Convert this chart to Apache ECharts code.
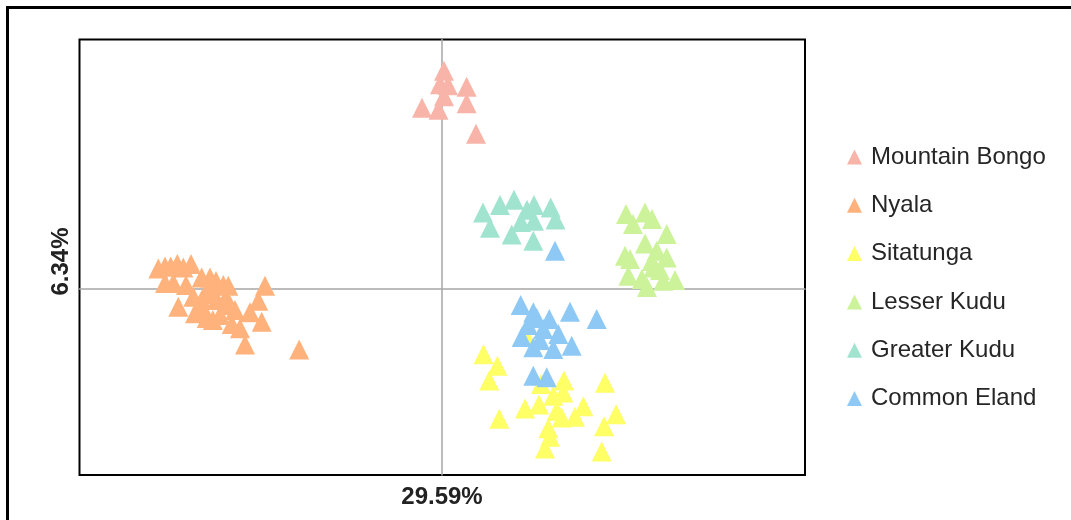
<!DOCTYPE html>
<html>
<head>
<meta charset="utf-8">
<script src="https://cdn.jsdelivr.net/npm/echarts@6/dist/echarts.min.js"></script>
<style>
html,body{margin:0;padding:0;background:#fff;}
#chart{width:1071px;height:520px;}
</style>
</head>
<body>
<div id="chart"></div>
<script>
// Axis labels (explained variance of the two components)
const xAxisLabel = "29.59%";
const yAxisLabel = "6.34%";

const seriesNames = ["Mountain Bongo", "Nyala", "Sitatunga", "Lesser Kudu", "Greater Kudu", "Common Eland"];
const seriesColors = ["#F8B4A8", "#FFB27C", "#FFFF66", "#CCF29A", "#A0E4D0", "#8EC9F5"];

const mountainBongo = [
  [0.22, 21.85], [-0.18, 20.5], [0.62, 20.4], [0.22, 19.3], [2.48, 20.25],
  [2.48, 18.6], [-1.98, 18.15], [-0.33, 17.95], [3.42, 15.55]
];
const nyala = [
  [-28.35, 2.07], [-27.68, 2.27], [-27.11, 2.27], [-26.45, 2.5], [-25.85, 2.17],
  [-25.08, 2.5], [-26.85, 0.6], [-27.68, 0.6], [-26.35, -1.77], [-24.01, 1.17],
  [-23.18, 1.17], [-21.85, 0.4], [-21.35, 0.33], [-22.58, 0.8], [-17.68, 0.33],
  [-18.35, -1.17], [-18.01, -3.27], [-19.68, -5.55], [-19.18, -2.33], [-21.01, -3.5],
  [-24.01, -1.1], [-24.68, -2.43], [-23.51, -2.9], [-22.18, -2.6], [-20.68, -2.1],
  [-24.85, -0.77], [-22.51, -1.1], [-21.18, -1.6], [-20.18, -3.93], [-14.26, -6.05],
  [-25.58, 0.4], [-23.5, -0.2], [-22.8, -0.5], [-23.9, -1.9], [-21.6, -0.9],
  [-22.9, -3.1]
];
const sitatunga = [
  [4.17, -6.53], [5.56, -7.68], [4.74, -9.15], [5.75, -12.96], [8.32, -11.95],
  [9.72, -11.55], [12.22, -9.15], [11.15, -10.68], [12.15, -10.35], [16.32, -9.36],
  [14.16, -11.72], [13.32, -12.77], [11.49, -12.18], [11.99, -12.85], [10.65, -13.93],
  [10.82, -14.77], [10.32, -15.95], [17.43, -12.53], [16.23, -13.72], [15.99, -16.25],
  [8.42, -4.7], [9.92, -9.5]
];
const lesserKudu = [
  [18.42, 7.5], [20.32, 7.67], [19.12, 6.5], [21.02, 7.0], [22.49, 5.5],
  [20.32, 4.57], [18.32, 3.33], [18.82, 3.0], [21.49, 3.83], [22.49, 3.17],
  [18.65, 1.33], [20.52, 0.2], [22.15, 0.83], [23.32, 0.9], [21.15, 2.17],
  [21.82, 1.9], [21.0, 2.8], [20.0, 1.0]
];
const greaterKudu = [
  [4.12, 7.67], [5.82, 8.4], [7.22, 8.93], [8.52, 7.93], [9.22, 8.4],
  [10.89, 8.17], [4.82, 6.13], [6.99, 5.47], [9.22, 6.83], [11.37, 6.95],
  [9.15, 4.83], [7.92, 6.7]
];
const commonEland = [
  [11.32, 3.83], [7.89, -1.6], [9.15, -2.33], [10.75, -3.0], [12.82, -2.27],
  [15.49, -3.0], [9.49, -2.9], [7.99, -4.8], [10.15, -4.0], [11.65, -4.5],
  [12.99, -5.67], [9.15, -5.83], [11.15, -6.0], [9.15, -8.67], [10.49, -8.83],
  [9.82, -5.1], [8.62, -3.6]
];

const allData = [mountainBongo, nyala, sitatunga, lesserKudu, greaterKudu, commonEland];

const chart = echarts.init(document.getElementById('chart'), null, {renderer: 'canvas'});

const series = seriesNames.map((name, i) => ({
  name: name,
  type: 'scatter',
  symbol: 'triangle',
  symbolSize: 20,
  data: allData[i],
  itemStyle: {color: seriesColors[i], opacity: 1},
  emphasis: {disabled: true}
}));

const axisCommon = {
  type: 'value',
  axisLine: {show: true, onZero: true, lineStyle: {color: '#A6A6A6', width: 1.5}},
  axisTick: {show: false},
  axisLabel: {show: false},
  splitLine: {show: false}
};

chart.setOption({
  animation: false,
  backgroundColor: '#ffffff',
  grid: {
    left: 79.5, top: 39.5, right: 266, bottom: 45,
    show: true, borderColor: '#000000', borderWidth: 2, backgroundColor: 'transparent'
  },
  xAxis: Object.assign({}, axisCommon, {min: -36.23, max: 36.32}),
  yAxis: Object.assign({}, axisCommon, {min: -18.6, max: 24.97}),
  legend: {
    orient: 'vertical',
    left: 847, top: 145,
    padding: 0,
    itemWidth: 15, itemHeight: 15,
    itemGap: 24.3,
    icon: 'triangle',
    selectedMode: false,
    data: seriesNames,
    textStyle: {
      fontFamily: 'Liberation Sans, Arial, sans-serif',
      fontSize: 24, lineHeight: 24, color: '#262626',
      padding: [0, 0, 0, 4]
    }
  },
  graphic: [
    {
      type: 'rect', silent: true,
      shape: {x: 7.5, y: 7.5, width: 1200, height: 700},
      style: {fill: 'none', stroke: '#000000', lineWidth: 3}
    },
    {
      type: 'text', silent: true,
      x: 442, y: 497,
      style: {
        text: xAxisLabel, fill: '#222222',
        font: 'bold 24px "Liberation Sans", Arial, sans-serif',
        textAlign: 'center', textVerticalAlign: 'middle'
      }
    },
    {
      type: 'text', silent: true,
      x: 61, y: 261.5, rotation: Math.PI / 2,
      style: {
        text: yAxisLabel, fill: '#222222',
        font: 'bold 24px "Liberation Sans", Arial, sans-serif',
        textAlign: 'center', textVerticalAlign: 'middle'
      }
    }
  ],
  series: series
});
</script>
</body>
</html>
